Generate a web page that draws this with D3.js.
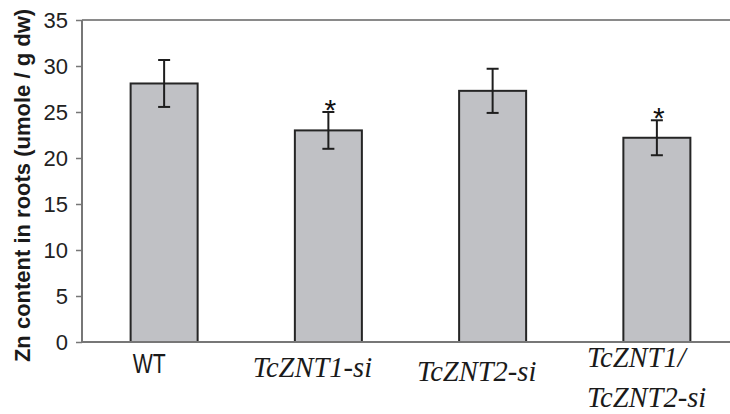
<!DOCTYPE html>
<html>
<head>
<meta charset="utf-8">
<script src="https://cdn.jsdelivr.net/npm/d3@7"></script>
<style>
	body { margin: 0; background: #fff; }
	svg { display: block; }
</style>
</head>
<body>
<div id="chart"></div>
<script>
// data
const groups = ['WT', 'TcZNT1-si', 'TcZNT2-si', 'TcZNT1/TcZNT2-si']
const means = [28.1, 23.0, 27.3, 22.2]
const errs = [2.55, 2.0, 2.4, 1.9]
const signif = [false, true, false, true]
const yTicks = [0, 5, 10, 15, 20, 25, 30, 35]

const width = 730
const height = 414
const margin = { top: 20, left: 82, bottom: 72 }
const sans = '"Liberation Sans", Arial, sans-serif'
const serif = '"Liberation Serif", "Times New Roman", serif'

const svg = d3
	.select('#chart')
	.append('svg')
	.attr('width', width)
	.attr('height', height)

const x = d3
	.scaleBand()
	.domain(groups)
	.range([margin.left, 739])
	.paddingInner(0.592)
	.paddingOuter(0.296)

const y = d3
	.scaleLinear()
	.domain([0, 35])
	.range([height - margin.bottom, margin.top])

// top frame line
svg.append('line')
	.attr('x1', margin.left).attr('x2', width)
	.attr('y1', y(35)).attr('y2', y(35))
	.attr('stroke', '#8a8a8a')
	.attr('stroke-width', 2)

// bars
svg.append('g')
	.selectAll('rect')
	.data(groups)
	.join('rect')
	.attr('x', d => x(d))
	.attr('width', x.bandwidth())
	.attr('y', (d, i) => y(means[i]))
	.attr('height', (d, i) => y(0) - y(means[i]))
	.attr('fill', '#c0c1c5')
	.attr('stroke', '#252525')
	.attr('stroke-width', 2)

// error bars
const eb = svg.append('g')
	.attr('stroke', '#1e1e1e')
	.attr('stroke-width', 2)
	.selectAll('g')
	.data(groups)
	.join('g')
	.attr('transform', d => `translate(${x(d) + x.bandwidth() / 2},0)`)

eb.append('line')
	.attr('y1', (d, i) => y(means[i] + errs[i]))
	.attr('y2', (d, i) => y(means[i] - errs[i]))
eb.append('line')
	.attr('x1', -6).attr('x2', 6)
	.attr('y1', (d, i) => y(means[i] + errs[i]))
	.attr('y2', (d, i) => y(means[i] + errs[i]))
eb.append('line')
	.attr('x1', -6).attr('x2', 6)
	.attr('y1', (d, i) => y(means[i] - errs[i]))
	.attr('y2', (d, i) => y(means[i] - errs[i]))

// significance stars
svg.append('g')
	.selectAll('text')
	.data(groups.filter((d, i) => signif[i]))
	.join('text')
	.attr('x', d => x(d) + x.bandwidth() / 2 + 2)
	.attr('y', d => {
		const i = groups.indexOf(d)
		return y(means[i] + errs[i]) + 8
	})
	.attr('text-anchor', 'middle')
	.style('font-family', sans)
	.style('font-size', '30px')
	.attr('fill', '#111')
	.text('*')

// y axis
const yAxis = svg.append('g')
	.attr('transform', `translate(${margin.left},0)`)
	.call(d3.axisLeft(y).tickValues(yTicks).tickSize(6).tickPadding(8))
yAxis.select('.domain').attr('stroke', '#777').attr('stroke-width', 2)
	.attr('d', `M0,${y(0)}V${y(35)}`)
yAxis.selectAll('.tick line').attr('stroke', '#777').attr('stroke-width', 1.5)
yAxis.selectAll('.tick text')
	.style('font-family', sans)
	.style('font-size', '22px')
	.attr('fill', '#222')
	.attr('dy', '0.36em')

// bottom axis line
svg.append('line')
	.attr('x1', margin.left - 1).attr('x2', width)
	.attr('y1', y(0)).attr('y2', y(0))
	.attr('stroke', '#777')
	.attr('stroke-width', 2)

// y title
svg.append('text')
	.attr('transform', `translate(30,${(13 + 358) / 2}) rotate(-90)`)
	.attr('text-anchor', 'middle')
	.style('font-family', sans)
	.style('font-weight', 'bold')
	.style('font-size', '22px')
	.attr('fill', '#1a1a1a')
	.text('Zn content in roots (umole / g dw)')

// category labels
const cx = d => x(d) + x.bandwidth() / 2
svg.append('text')
	.attr('x', cx(groups[0]) - 15)
	.attr('y', 373)
	.attr('text-anchor', 'middle')
	.style('font-family', sans)
	.style('font-size', '27px')
	.attr('textLength', 33)
	.attr('lengthAdjust', 'spacingAndGlyphs')
	.attr('fill', '#1a1a1a')
	.text(groups[0])

const italic = sel => sel
	.style('font-family', serif)
	.style('font-style', 'italic')
	.style('font-size', '28.5px')
	.attr('fill', '#1a1a1a')

svg.append('text')
	.attr('x', cx(groups[1]) - 16)
	.attr('y', 377)
	.attr('text-anchor', 'middle')
	.call(italic)
	.text(groups[1])

svg.append('text')
	.attr('x', cx(groups[2]) - 16)
	.attr('y', 381)
	.attr('text-anchor', 'middle')
	.call(italic)
	.text(groups[2])

const last = svg.append('text').call(italic)
last.append('tspan').attr('x', cx(groups[3]) - 70).attr('y', 367).text('TcZNT1/')
last.append('tspan').attr('x', cx(groups[3]) - 70).attr('y', 407).text('TcZNT2-si')
</script>
</body>
</html>
